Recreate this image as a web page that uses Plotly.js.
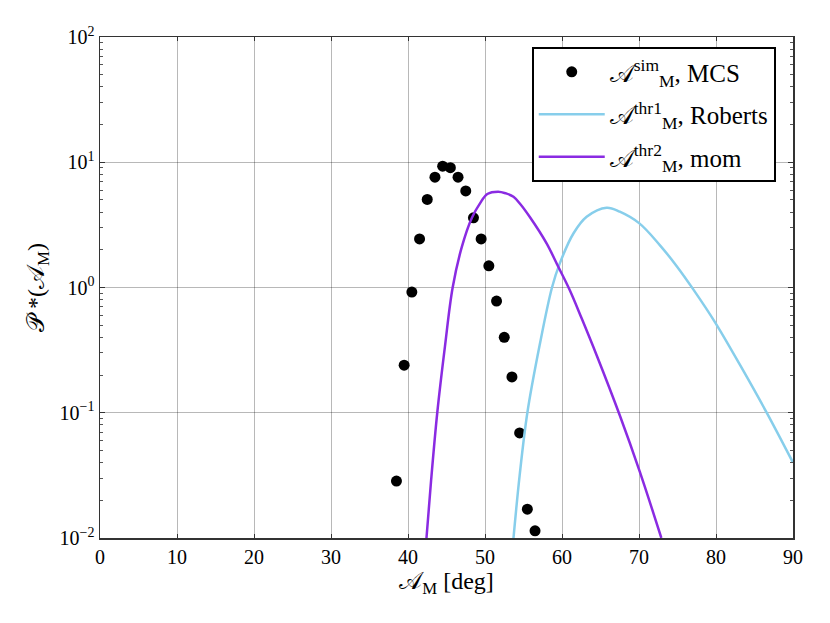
<!DOCTYPE html>
<html>
<head>
<meta charset="utf-8">
<script src="https://cdn.plot.ly/plotly-3.0.1.min.js"></script>
<style>html,body{margin:0;padding:0;background:#fff;}#chart{width:830px;height:623px;}</style>
</head>
<body>
<div id="chart"></div>
<script>
// Simulated (MCS) histogram points
const simAngle = [38.5,39.5,40.5,41.5,42.5,43.5,44.5,45.5,46.5,47.5,48.5,49.5,50.5,51.5,52.5,53.5,54.5,55.5,56.5];
const simP     = [0.0285,0.24,0.92,2.44,5.05,7.6,9.3,9.05,7.6,5.9,3.6,2.44,1.49,0.78,0.40,0.193,0.069,0.017,0.0114];

// Theory 1 (Roberts)
const thr1Angle = [53.7,54.5,55.5,57.1,58.7,59.7,61.5,63.2,65.8,67.5,70.05,72.7,74.9,77.05,79.9,83.1,86.67,90.0];
const thr1P     = [0.0100,0.0316,0.100,0.347,1.0,1.55,2.71,3.67,4.34,4.03,3.25,2.18,1.48,0.966,0.525,0.242,0.098,0.040];

// Theory 2 (mom)
const thr2Angle = [42.4,43.0,43.8,44.8,45.8,47.0,48.3,49.35,50.3,51.7,52.7,53.7,54.6,55.8,58.0,59.5,61.0,62.55,64.5,67.5,70.1,72.9];
const thr2P     = [0.0100,0.0288,0.100,0.339,1.0,2.12,3.61,4.70,5.58,5.82,5.65,5.31,4.62,3.67,2.25,1.47,0.955,0.568,0.288,0.0955,0.0339,0.0100];

const xTicks = [0,10,20,30,40,50,60,70,80,90];
const yTickVals = [0.01,0.1,1,10,100];
const yTickText = ['10<sup>\u22122</sup>','10<sup>\u22121</sup>','10<sup>0</sup>','10<sup>1</sup>','10<sup>2</sup>'];
const yMinorDigits = [2,3,4,5,6,7,8,9];
const yDecades = [0.01,0.1,1,10];

const yMinorVals = [];
yDecades.forEach(d => yMinorDigits.forEach(m => yMinorVals.push(d*m)));

const serif = 'Liberation Serif, DejaVu Serif, serif';

const traces = [
  {x: simAngle, y: simP, type:'scatter', mode:'markers', legendgroup:'g1',
   marker:{color:'#000', size:11},
   name:'\ud835\udc9c<sup>sim</sup><sub>M</sub>, MCS'},
  {x: thr1Angle, y: thr1P, type:'scatter', mode:'lines', legendgroup:'g2',
   line:{color:'#87ceeb', width:2.5, shape:'spline', smoothing:1},
   name:'\ud835\udc9c<sup>thr1</sup><sub>M</sub>, Roberts'},
  {x: thr2Angle, y: thr2P, type:'scatter', mode:'lines', legendgroup:'g3',
   line:{color:'#8a2be2', width:2.5, shape:'spline', smoothing:1},
   name:'\ud835\udc9c<sup>thr2</sup><sub>M</sub>, mom'}
];

const layout = {
  width:830, height:623,
  margin:{l:100, r:37, t:37, b:85},
  paper_bgcolor:'#fff', plot_bgcolor:'#fff',
  font:{family:serif, color:'#000', size:20},
  showlegend:true,
  legend:{x:0.623, y:0.98, xanchor:'left', yanchor:'top',
          bgcolor:'#fff', bordercolor:'#000', borderwidth:2,
          font:{family:serif, size:25}, itemwidth:66, tracegroupgap:7},
  xaxis:{range:[0,90], tickvals:xTicks, ticks:'inside', ticklen:4, tickcolor:'#333',
         showline:true, linecolor:'#333', linewidth:1.5, mirror:'ticks',
         showgrid:true, gridcolor:'rgba(0,0,0,0.28)', gridwidth:1, zeroline:false,
         tickfont:{family:serif, size:20},
         title:{text:'\ud835\udc9c<sub>M</sub> [deg]', font:{family:serif, size:24}, standoff:5}},
  yaxis:{type:'log', range:[-2,2], tickvals:yTickVals, ticktext:yTickText,
         ticks:'inside', ticklen:5, tickcolor:'#333',
         minor:{tickvals:yMinorVals, ticks:'inside', ticklen:3, tickcolor:'#555', showgrid:false},
         showline:true, linecolor:'#333', linewidth:1.5, mirror:'ticks',
         showgrid:true, gridcolor:'rgba(0,0,0,0.28)', gridwidth:1, zeroline:false,
         tickfont:{family:serif, size:20},
         title:{text:'\ud835\udcab *(\ud835\udc9c<sub>M</sub>)', font:{family:serif, size:24}, standoff:8}}
};

Plotly.newPlot('chart', traces, layout, {displayModeBar:false, staticPlot:true});
</script>
</body>
</html>
